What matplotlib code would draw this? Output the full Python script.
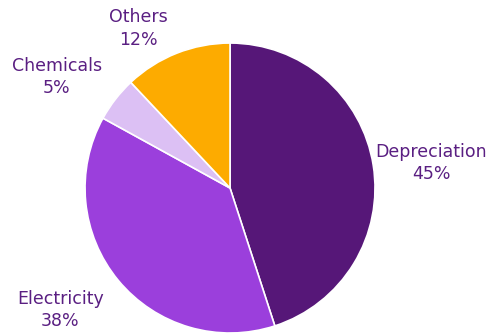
import matplotlib
matplotlib.use('Agg')
import matplotlib.pyplot as plt
import numpy as np

# cost breakdown
categories = ['Depreciation', 'Electricity', 'Chemicals', 'Others']
shares = [45, 38, 5, 12]
colors = ['#561778', '#9b3fdc', '#dcc0f4', '#fdab00']
text_color = '#5a1f82'

# label placement (radius multiple, angular nudge in degrees)
label_dist = [1.40, 1.44, 1.42, 1.27]
label_shift = [-2.0, -3.9, 5.1, 8.3]

fig = plt.figure(figsize=(5.04, 3.36), dpi=100)
ax = fig.add_axes([0.1687, 0.0089, 0.5754, 0.863])

wedges, _ = ax.pie(shares, colors=colors, startangle=90, counterclock=False,
                   wedgeprops={'edgecolor': 'white', 'linewidth': 1.2})

for w, c, v, d, s in zip(wedges, categories, shares, label_dist, label_shift):
    ang = np.deg2rad((w.theta1 + w.theta2) / 2 + s)
    ax.text(d * np.cos(ang), d * np.sin(ang), f'{c}\n{v}%', ha='center',
            va='center', multialignment='center', color=text_color,
            fontsize=12.5, linespacing=1.3, family='DejaVu Sans', clip_on=False)

ax.set_xlim(-1, 1)
ax.set_ylim(-1, 1)
ax.set_aspect('equal')

fig.savefig('out.png', dpi=100)
